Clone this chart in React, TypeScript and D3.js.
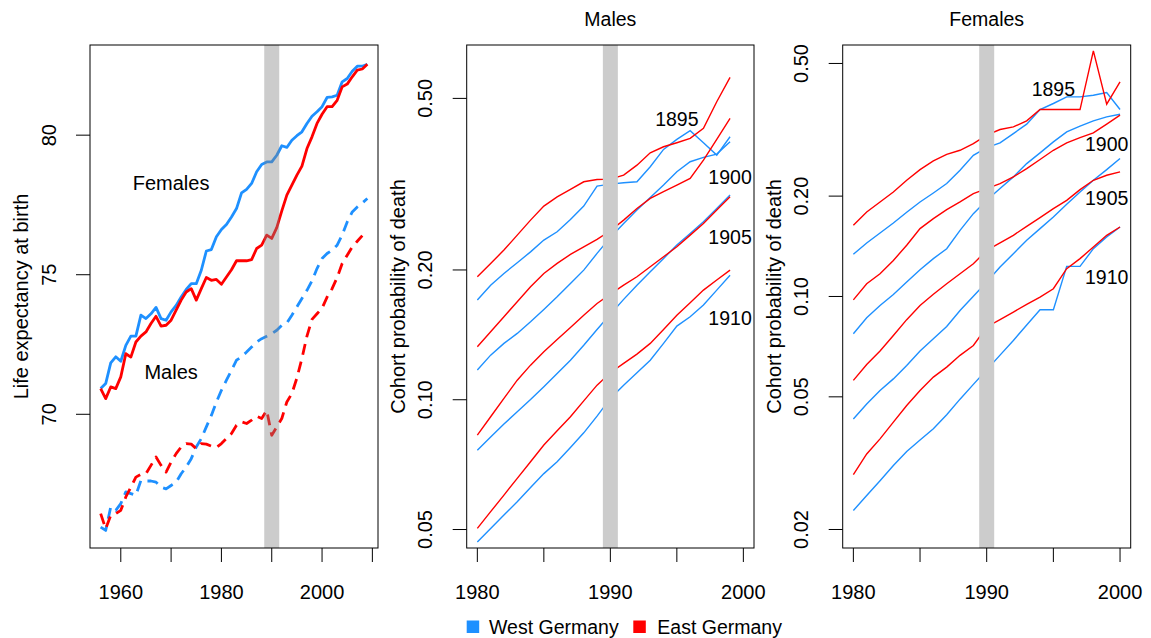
import React from "react";
import * as d3 from "d3";

const BLUE = "#1E90FF";
const RED = "#FF0000";
const FONT = "'Liberation Sans', Arial, Helvetica, sans-serif";

// ---- left panel: life expectancy at birth ----
const leYears = d3.range(1956, 2010);
const femWest = [
  70.92, 71.1, 71.84, 72.06, 71.9, 72.47, 72.8, 72.8, 73.55, 73.43,
  73.6, 73.83, 73.43, 73.37, 73.67, 73.9, 74.2, 74.47, 74.68, 74.68,
  75.16, 75.85, 75.9, 76.36, 76.62, 76.8, 77.07, 77.37, 77.93, 78.06,
  78.27, 78.69, 78.95, 79.04, 79.04, 79.28, 79.62, 79.56, 79.82, 79.98,
  80.12, 80.42, 80.68, 80.84, 81.02, 81.35, 81.37, 81.43, 81.91, 82.03,
  82.29, 82.47, 82.47, 82.54
];
const femEast = [
  70.92, 70.56, 70.98, 70.92, 71.34, 72.17, 72.05, 72.59, 72.8, 72.95,
  73.25, 73.51, 73.16, 73.19, 73.37, 73.73, 74.09, 74.38, 74.5, 74.09,
  74.5, 74.9, 74.8, 74.83, 74.66, 74.92, 75.18, 75.5, 75.5, 75.5,
  75.54, 75.94, 76.06, 76.42, 76.3, 76.69, 77.29, 77.85, 78.21, 78.57,
  78.89, 79.52, 79.94, 80.42, 80.75, 81.02, 81.02, 81.25, 81.73, 81.83,
  82.09, 82.33, 82.37, 82.54
];
const maleWest = [
  65.96, 65.84, 66.68, 66.56, 66.8, 67.22, 67.16, 67.1, 67.63, 67.61,
  67.61, 67.57, 67.39, 67.33, 67.45, 67.57, 67.87, 68.11, 68.41, 68.83,
  69.13, 69.55, 69.96, 70.44, 70.86, 71.22, 71.58, 71.94, 72.06, 72.23,
  72.41, 72.59, 72.71, 72.8, 72.89, 73.01, 73.19, 73.27, 73.55, 73.85,
  74.15, 74.44, 74.78, 75.22, 75.58, 75.76, 75.88, 76.06, 76.42, 76.89,
  77.25, 77.43, 77.57, 77.73
];
const maleEast = [
  66.44, 65.9, 66.38, 66.44, 66.56, 67.04, 67.39, 67.75, 67.85, 67.87,
  68.17, 68.47, 68.17, 67.93, 68.29, 68.59, 68.83, 68.95, 68.93, 68.77,
  68.95, 68.93, 68.86, 68.81, 68.95, 69.13, 69.31, 69.61, 69.73, 69.67,
  69.79, 69.93, 69.85, 70.14, 69.25, 69.55, 69.85, 70.44, 70.74, 71.3,
  72.0, 72.8, 73.4, 73.6, 73.8, 74.2, 74.5, 74.9, 75.4, 75.7,
  76.0, 76.2, 76.4
];

// ---- middle panel: males, cohort probability of death ----
const maleYears = d3.range(1980, 2000);
const m1895W = [0.1703, 0.1844, 0.1963, 0.2078, 0.2203, 0.2346, 0.2452, 0.2619, 0.2813, 0.313, 0.3164, 0.3187, 0.3203, 0.347, 0.3807, 0.4016, 0.4207, 0.3946, 0.3694, 0.4074];
const m1895E = [0.1929, 0.2071, 0.2224, 0.2409, 0.261, 0.2813, 0.2956, 0.3075, 0.3203, 0.3243, 0.3249, 0.3319, 0.35, 0.374, 0.3862, 0.3946, 0.4038, 0.426, 0.4912, 0.5594];
const m1900W = [0.1172, 0.1269, 0.1351, 0.1425, 0.1516, 0.162, 0.1733, 0.1861, 0.1998, 0.2185, 0.2379, 0.2564, 0.2754, 0.2946, 0.3147, 0.3379, 0.3565, 0.3649, 0.3714, 0.3967];
const m1900E = [0.1327, 0.1438, 0.1558, 0.1688, 0.1828, 0.1963, 0.2071, 0.2173, 0.2263, 0.2354, 0.2466, 0.261, 0.2778, 0.2931, 0.3037, 0.3147, 0.3261, 0.3596, 0.4016, 0.4494];
const m1905W = [0.0764, 0.082, 0.0878, 0.0938, 0.1001, 0.1072, 0.1151, 0.1235, 0.1338, 0.1455, 0.1579, 0.1709, 0.1844, 0.1981, 0.2127, 0.2284, 0.243, 0.2588, 0.2778, 0.2983];
const m1905E = [0.0828, 0.0913, 0.1007, 0.111, 0.1203, 0.1292, 0.138, 0.1471, 0.1571, 0.1672, 0.1758, 0.1844, 0.1929, 0.2034, 0.2146, 0.2263, 0.2409, 0.2564, 0.2754, 0.2956];
const m1910W = [0.0468, 0.0503, 0.054, 0.058, 0.0626, 0.0674, 0.0718, 0.0775, 0.0838, 0.0916, 0.1007, 0.1081, 0.1155, 0.1235, 0.1351, 0.1482, 0.1558, 0.1658, 0.1796, 0.1945];
const m1910E = [0.0503, 0.055, 0.0601, 0.0657, 0.0718, 0.0785, 0.0847, 0.0913, 0.0994, 0.1081, 0.1155, 0.1214, 0.1276, 0.1351, 0.1455, 0.1571, 0.1679, 0.1796, 0.1895, 0.1998];

// ---- right panel: females ----
const femYears = d3.range(1980, 2001);
const f1895W = [0.1338, 0.1447, 0.155, 0.1661, 0.1789, 0.1921, 0.2044, 0.2181, 0.2391, 0.2652, 0.2797, 0.2888, 0.3081, 0.3287, 0.3637, 0.3792, 0.397, 0.397, 0.4016, 0.4091, 0.3637];
const f1895E = [0.1635, 0.1793, 0.1921, 0.2058, 0.2231, 0.2402, 0.255, 0.267, 0.2745, 0.2875, 0.3046, 0.3168, 0.3227, 0.3363, 0.3637, 0.3637, 0.3637, 0.3637, 0.5457, 0.3774, 0.4404];
const f1900W = [0.0773, 0.0863, 0.094, 0.1014, 0.1105, 0.1203, 0.1299, 0.1391, 0.1579, 0.1772, 0.1943, 0.2107, 0.2284, 0.2504, 0.2696, 0.2909, 0.3117, 0.3242, 0.3363, 0.3458, 0.3522];
const f1900E = [0.0977, 0.1092, 0.117, 0.1283, 0.1424, 0.1598, 0.1712, 0.1822, 0.1921, 0.2035, 0.2107, 0.2181, 0.2284, 0.2418, 0.2575, 0.2745, 0.2888, 0.2997, 0.3095, 0.3287, 0.3498];
const f1905W = [0.0429, 0.0476, 0.0522, 0.0566, 0.0621, 0.0686, 0.0747, 0.0813, 0.0908, 0.1001, 0.1105, 0.1226, 0.1344, 0.1474, 0.1598, 0.1732, 0.189, 0.2058, 0.2231, 0.2402, 0.2593];
const f1905E = [0.056, 0.0625, 0.0686, 0.0764, 0.0852, 0.094, 0.1015, 0.1092, 0.117, 0.1254, 0.1375, 0.1447, 0.1526, 0.1623, 0.1724, 0.1834, 0.1943, 0.2092, 0.2231, 0.231, 0.2364];
const f1910W = [0.0228, 0.0253, 0.028, 0.0311, 0.0343, 0.0371, 0.0401, 0.0442, 0.0492, 0.0545, 0.0603, 0.0667, 0.0738, 0.0821, 0.0912, 0.0912, 0.1231, 0.1231, 0.1391, 0.1509, 0.1616];
const f1910E = [0.0292, 0.0337, 0.0374, 0.042, 0.0471, 0.0522, 0.0573, 0.0614, 0.0666, 0.0713, 0.081, 0.0852, 0.0898, 0.0947, 0.0996, 0.1055, 0.1212, 0.1299, 0.1407, 0.1526, 0.1616];

const cohortLabels = ["1895", "1900", "1905", "1910"];
const maleLabelAt = [[1995, 0.448], [1999, 0.328], [1999, 0.2384], [1999, 0.1546]];
const femLabelAt = [[1995, 0.4185], [1999, 0.2862], [1999, 0.197], [1999, 0.1141]];

const reunification = 1990;

const W = 1151, H = 638;
const TOP = 45, BOTTOM = 548;
const FS = 20;

function Ticks({ x, y, xTicks, xLabels, yTicks, yFmt, x0 }) {
  return (
    <g>
      {xTicks.map(t => (
        <line key={"xt" + t} x1={x(t)} x2={x(t)} y1={BOTTOM} y2={BOTTOM + 14} stroke="#000" />
      ))}
      {xLabels.map(t => (
        <text key={"xl" + t} x={x(t)} y={599} textAnchor="middle" fontSize={FS}>{t}</text>
      ))}
      {yTicks.map(t => (
        <g key={"yt" + t}>
          <line x1={x0 - 14} x2={x0} y1={y(t)} y2={y(t)} stroke="#000" />
          <text transform={`translate(${x0 - 34.5},${y(t)}) rotate(-90)`} textAnchor="middle" fontSize={FS}>
            {yFmt(t)}
          </text>
        </g>
      ))}
    </g>
  );
}

function LeftPanel() {
  const x0 = 90, x1 = 378;
  const x = d3.scaleLinear().domain([1953.88, 2011.12]).range([x0, x1]);
  const y = d3.scaleLinear().domain([65.21, 83.23]).range([BOTTOM, TOP]);
  const line = d3.line<number>().x((d, i) => x(leYears[i])).y(d => y(d));
  const series = [
    { v: femWest, c: BLUE, dash: null },
    { v: femEast, c: RED, dash: null },
    { v: maleWest, c: BLUE, dash: "11,7" },
    { v: maleEast, c: RED, dash: "11,7" }
  ];
  return (
    <g>
      {series.map((s, i) => (
        <path key={i} d={line(s.v)} fill="none" stroke={s.c} strokeWidth={2.8}
          strokeDasharray={s.dash || undefined} strokeLinejoin="round" />
      ))}
      <rect x={x(reunification) - 7.5} y={TOP} width={15} height={BOTTOM - TOP} fill="#808080" fillOpacity={0.4} />
      <text x={x(1970)} y={y(78.29) + 7} textAnchor="middle" fontSize={FS}>Females</text>
      <text x={x(1970)} y={y(71.5) + 7} textAnchor="middle" fontSize={FS}>Males</text>
      <rect x={x0} y={TOP} width={x1 - x0} height={BOTTOM - TOP} fill="none" stroke="#000" />
      <Ticks x={x} y={y} x0={x0} xTicks={d3.range(1960, 2011, 10)} xLabels={[1960, 1980, 2000]}
        yTicks={[70, 75, 80]} yFmt={d => String(d)} />
      <text transform={`translate(${x0 - 62},${(TOP + BOTTOM) / 2}) rotate(-90)`} textAnchor="middle" fontSize={FS}>
        Life expectancy at birth
      </text>
    </g>
  );
}

function CohortPanel({ x0, x1, yDomain, years, pairs, labelAt, yTicks, title }) {
  const x = d3.scaleLinear().domain([1979.2, 2000.8]).range([x0, x1]);
  const y = d3.scaleLog().domain(yDomain).range([BOTTOM, TOP]);
  const line = d3.line<number>().x((d, i) => x(years[i])).y(d => y(d));
  return (
    <g>
      {pairs.map((p, i) => (
        <g key={i}>
          <path d={line(p[0])} fill="none" stroke={BLUE} strokeWidth={1.4} />
          <path d={line(p[1])} fill="none" stroke={RED} strokeWidth={1.4} />
        </g>
      ))}
      <rect x={x(reunification) - 7.5} y={TOP} width={15} height={BOTTOM - TOP} fill="#cccccc" />
      {cohortLabels.map((l, i) => (
        <text key={l} x={x(labelAt[i][0])} y={y(labelAt[i][1]) + 7} textAnchor="middle" fontSize={19.5}>{l}</text>
      ))}
      <rect x={x0} y={TOP} width={x1 - x0} height={BOTTOM - TOP} fill="none" stroke="#000" />
      <Ticks x={x} y={y} x0={x0} xTicks={d3.range(1980, 2001, 5)} xLabels={[1980, 1990, 2000]}
        yTicks={yTicks} yFmt={d3.format(".2f")} />
      <text transform={`translate(${x0 - 62},${(TOP + BOTTOM) / 2}) rotate(-90)`} textAnchor="middle" fontSize={FS}>
        Cohort probability of death
      </text>
      <text x={(x0 + x1) / 2} y={26} textAnchor="middle" fontSize={19.5}>{title}</text>
    </g>
  );
}

export default function App() {
  return (
    <svg width={W} height={H} style={{ position: "absolute", left: 0, top: 0, background: "#fff" }}
      fontFamily={FONT}>
      <rect width={W} height={H} fill="#fff" />
      <LeftPanel />
      <CohortPanel x0={466.7} x1={754} yDomain={[0.0453, 0.665]} years={maleYears}
        pairs={[[m1895W, m1895E], [m1900W, m1900E], [m1905W, m1905E], [m1910W, m1910E]]}
        labelAt={maleLabelAt} yTicks={[0.05, 0.1, 0.2, 0.5]} title="Males" />
      <CohortPanel x0={842.7} x1={1130.7} yDomain={[0.0176, 0.568]} years={femYears}
        pairs={[[f1895W, f1895E], [f1900W, f1900E], [f1905W, f1905E], [f1910W, f1910E]]}
        labelAt={femLabelAt} yTicks={[0.02, 0.05, 0.1, 0.2, 0.5]} title="Females" />
      <g fontSize={19.5}>
        <rect x={466.7} y={620.5} width={12.5} height={12.5} fill={BLUE} />
        <text x={489} y={634}>West Germany</text>
        <rect x={633.3} y={620.5} width={12.5} height={12.5} fill={RED} />
        <text x={657.3} y={634}>East Germany</text>
      </g>
    </svg>
  );
}
